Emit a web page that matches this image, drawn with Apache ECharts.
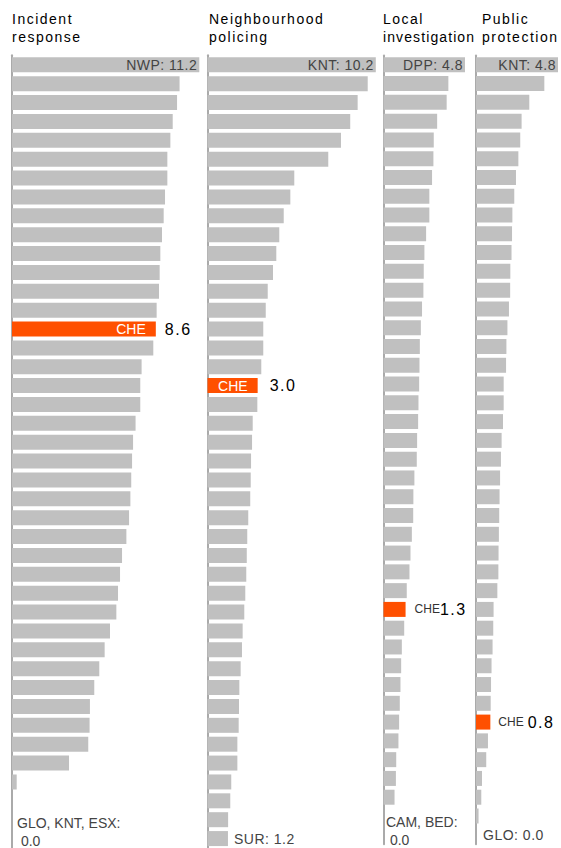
<!DOCTYPE html>
<html><head><meta charset="utf-8">
<script src="https://cdn.jsdelivr.net/npm/echarts@6/dist/echarts.min.js"></script>
<style>html,body{margin:0;padding:0;background:#fff}#c{width:561px;height:848px}</style>
</head><body><div id="c"></div>
<script>
// ---- data (rank order, highest first) ----
const ranks = ['1','2','3','4','5','6','7','8','9','10','11','12','13','14','15','16','17','18','19','20','21',
  '22','23','24','25','26','27','28','29','30','31','32','33','34','35','36','37','38','39','40','41','42'];
const incidentResponse = [11.2,10.02,9.87,9.61,9.47,9.29,9.29,9.15,9.07,8.97,8.87,8.83,8.79,8.65,8.6,8.45,
  7.75,7.67,7.67,7.39,7.24,7.18,7.13,7.08,7.0,6.84,6.58,6.46,6.34,6.24,5.86,5.54,5.22,4.92,4.66,4.64,4.56,3.41,0.28,0,0,0];
const neighbourhoodPolicing = [10.2,9.71,9.10,8.65,8.09,7.32,5.26,5.02,4.62,4.35,4.17,3.97,3.65,3.53,3.38,3.38,
  3.26,3.04,3.02,2.74,2.70,2.64,2.62,2.59,2.47,2.41,2.38,2.35,2.29,2.23,2.13,2.09,2.01,1.93,1.91,1.89,1.81,1.81,1.44,1.38,1.25,1.24];
const localInvestigation = [4.8,3.82,3.72,3.16,2.96,2.94,2.86,2.70,2.70,2.51,2.41,2.37,2.35,2.27,2.20,2.14,2.12,
  2.10,2.06,2.04,1.98,1.96,1.82,1.76,1.75,1.67,1.59,1.53,1.37,1.30,1.22,1.08,1.04,1.00,0.96,0.92,0.88,0.75,0.73,0.65,0,0];
const publicProtection = [4.8,4.00,3.12,2.67,2.59,2.48,2.34,2.24,2.13,2.11,2.08,2.01,2.00,1.93,1.84,1.78,1.76,
  1.62,1.62,1.58,1.50,1.46,1.41,1.38,1.36,1.34,1.32,1.31,1.25,1.03,1.01,0.97,0.91,0.88,0.86,0.84,0.70,0.60,0.35,0.31,0.15,0];
const panelTitles = ['Incident\nresponse','Neighbourhood\npolicing','Local\ninvestigation','Public\nprotection'];
const topForces = ['NWP','KNT','DPP','KNT'];
const bottomForces = ['GLO, KNT, ESX','SUR','CAM, BED','GLO'];
const highlight = 'CHE';
const highlightIndex = [14,17,29,35];

// ---- layout ----
const seriesValues = [incidentResponse, neighbourhoodPolicing, localInvestigation, publicProtection];
const layout = [
  {left:12,    width:187.3, top:55.35, pitch:18.9,  titleLeft:12,  cheInside:true,  valDist:9,  botDist:5, botOff:-7, wrap:true},
  {left:207.5, width:168.3, top:55.35, pitch:18.9,  titleLeft:209, cheInside:true,  valDist:12, botDist:6, botOff:0,  wrap:false},
  {left:383.5, width:81.5,  top:55.4,  pitch:18.78, titleLeft:383, cheInside:false, valDist:9,  botDist:2.5, botOff:-4, wrap:true},
  {left:476,   width:82,    top:55.4,  pitch:18.78, titleLeft:482, cheInside:false, valDist:8,  botDist:7, botOff:0,  wrap:false}
];
const FONT = 'Liberation Sans, Arial, Helvetica, sans-serif';
const GRAY = '#c0c0c0', ORANGE = '#ff5000';

const option = {
  animation:false,
  backgroundColor:'#fff',
  textStyle:{fontFamily:FONT},
  title: layout.map((L,i)=>({
    text:panelTitles[i], left:L.titleLeft, top:10, padding:0,
    textStyle:{fontFamily:FONT,fontSize:14,fontWeight:'normal',color:'#000',lineHeight:18}
  })),
  grid: layout.map(L=>({left:L.left, top:L.top, width:L.width, height:L.pitch*ranks.length, containLabel:false})),
  xAxis: layout.map((L,i)=>({type:'value', gridIndex:i, min:0, max:seriesValues[i][0], show:false})),
  yAxis: layout.map((L,i)=>({type:'category', gridIndex:i, data:ranks, inverse:true,
    axisLine:{show:true, lineStyle:{color:'#aaaaaa', width:2}}, axisTick:{show:false}, axisLabel:{show:false}, splitLine:{show:false}})),
  series: []
};

seriesValues.forEach((vals,i)=>{
  const L = layout[i];
  const last = vals.length-1;
  const che = highlightIndex[i];
  const data = vals.map((v,j)=>{
    const item = {value:v};
    if (j===0) {
      item.label = {show:true, position:'insideRight', distance:2, formatter: topForces[i]+': '+v.toFixed(1),
        color:'#444', fontSize:14, fontFamily:FONT};
    } else if (j===che) {
      item.itemStyle = {color:ORANGE};
      if (L.cheInside) {
        item.label = {show:true, position:'insideRight', distance:10, formatter:highlight, color:'#fff', fontSize:14, fontFamily:FONT};
      } else {
        item.label = {show:true, position:'right', distance:L.valDist,
          formatter:'{c|'+highlight+'}{v|'+v.toFixed(1)+'}',
          rich:{c:{fontSize:12,color:'#333',fontFamily:FONT,padding:[0, i===3?4:0, 0, 0]},
                v:{fontSize:16,color:'#000',fontFamily:FONT}}};
      }
    } else if (j===last) {
      item.label = {show:true, position:'right', distance:L.botDist, offset:[0,L.botOff],
        formatter: bottomForces[i]+':'+(L.wrap?'\n ':' ')+v.toFixed(1),
        color:'#444', fontSize:14, lineHeight:18, fontFamily:FONT};
    }
    return item;
  });
  option.series.push({type:'bar', xAxisIndex:i, yAxisIndex:i, barWidth:15, barGap:'-100%',
    itemStyle:{color:GRAY}, silent:true, data:data, z:2});
  if (L.cheInside) {
    option.series.push({type:'bar', xAxisIndex:i, yAxisIndex:i, barWidth:15, barGap:'-100%', silent:true, z:3,
      itemStyle:{color:'rgba(0,0,0,0)'},
      data: vals.map((v,j)=> j===che ? {value:v, label:{show:true, position:'right', distance:L.valDist,
        formatter:v.toFixed(1), color:'#000', fontSize:16, fontFamily:FONT}} : '-')});
  }
});

const chart = echarts.init(document.getElementById('c'), null, {renderer:'svg'});
chart.setOption(option);

// letter spacing to mimic the reference typography
function spaceText(){
  const titleWords = panelTitles.join('\n').split('\n');
  document.querySelectorAll('#c text').forEach(t=>{
    const s = t.textContent;
    if (titleWords.indexOf(s) >= 0) t.style.letterSpacing = (s==='investigation' ? '1.1px' : '1.5px');
    else if (/^\d+\.\d$/.test(s)) t.style.letterSpacing = '1.5px';
    else if (/^[A-Z]{3}: \d/.test(s)) t.style.letterSpacing = '0.5px';
  });
}
spaceText();
chart.on('finished', spaceText);
setTimeout(spaceText, 50);
</script>
</body></html>
